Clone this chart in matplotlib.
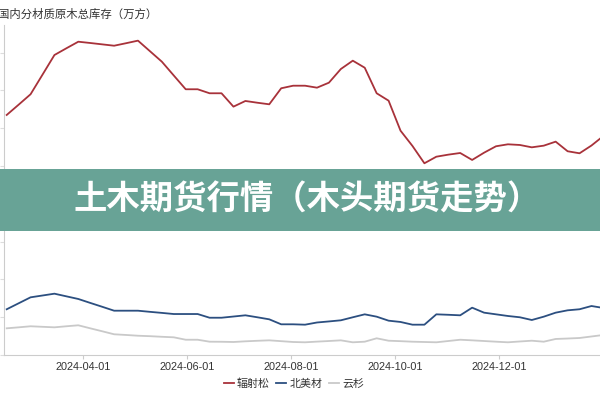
import matplotlib
matplotlib.use("Agg")
import matplotlib.pyplot as plt
import matplotlib.dates as mdates
from matplotlib.patches import Rectangle
import pandas as pd

plt.rcParams['font.family'] = ['Noto Sans CJK SC', 'DejaVu Sans']

dates = pd.date_range("2024-02-16", periods=51, freq="7D")

radiata = [317.5, 331.1, 344.9, 370.8, 396.8, 405.7, 414.4, 412.7, 410.9, 409.1,
           412.4, 415.8, 401.9, 388.0, 369.7, 351.5, 351.5, 346.2, 346.2, 328.5,
           336.0, 333.7, 331.6, 352.8, 356.2, 356.2, 353.6, 360.2, 378.3, 389.3,
           380.0, 346.2, 336.4, 296.7, 276.5, 253.6, 262.3, 265.0, 267.2, 258.0,
           267.6, 276.1, 278.7, 277.8, 274.7, 276.9, 282.2, 269.5, 266.8, 277.1,
           289.7]
north_am = [60.5, 68.4, 76.3, 78.7, 81.1, 77.6, 74.1, 68.9, 63.8, 58.6,
            58.6, 58.6, 57.1, 55.7, 54.2, 54.2, 54.2, 49.3, 49.3, 50.9,
            52.5, 49.9, 47.2, 40.6, 40.6, 40.1, 43.0, 44.4, 45.9, 49.9,
            53.8, 50.7, 45.4, 43.7, 40.1, 40.1, 53.8, 53.2, 52.5, 62.6,
            56.0, 53.8, 51.6, 49.9, 46.3, 50.7, 56.0, 59.1, 60.5, 64.8,
            62.2]
spruce = [35.3, 36.6, 38.0, 37.3, 36.6, 38.0, 39.3, 35.3, 31.4, 27.4,
          26.5, 25.5, 24.9, 24.1, 23.4, 20.2, 20.2, 17.6, 17.5, 17.2,
          18.1, 18.8, 19.4, 18.3, 17.2, 16.8, 17.7, 18.5, 19.4, 16.8,
          17.6, 22.1, 18.9, 18.3, 17.6, 17.2, 16.8, 18.5, 20.2, 19.4,
          18.5, 17.6, 16.8, 17.9, 18.9, 17.6, 21.2, 21.8, 22.5, 24.5,
          26.5]
series_names = ["辐射松", "北美材", "云杉"]
colors = ["#a8323a", "#2c4f80", "#c9c9c9"]
tick_dates = ["2024-04-01", "2024-06-01", "2024-08-01", "2024-10-01", "2024-12-01"]
title = "国内分材质原木总库存（万方）"
banner = "土木期货行情（木头期货走势）"

fig = plt.figure(figsize=(6, 4), dpi=100)
ax = fig.add_axes([4/600, 45/400, 596/600, 330/400])

for vals, name, c in zip([radiata, north_am, spruce], series_names, colors):
    ax.plot(dates, vals, color=c, lw=1.3, label=name)

ax.set_xlim(pd.Timestamp("2024-02-14 10:00"), pd.Timestamp("2025-01-29"))
ax.set_ylim(0, 436.5)
ax.set_yticks(range(0, 401, 50))
ax.set_yticklabels([])
ax.set_xticks(pd.to_datetime(tick_dates))
ax.xaxis.set_major_formatter(mdates.DateFormatter("%Y-%m-%d"))
ax.tick_params(axis='x', length=3, color="#cccccc", labelsize=7.8, labelcolor="#333333", pad=2)
ax.tick_params(axis='y', length=3, color="#dddddd")
for lbl in ax.get_xticklabels():
    lbl.set_fontfamily(['Liberation Sans', 'DejaVu Sans'])
for s in ["top", "right"]:
    ax.spines[s].set_visible(False)
for s in ["left", "bottom"]:
    ax.spines[s].set_color("#cccccc")
    ax.spines[s].set_linewidth(0.8)

fig.text(-0.004, 0.965, title, fontsize=8.2, color="#333333", ha="left", va="center",
         fontweight="medium")

leg = fig.legend(loc="center", bbox_to_anchor=(0.49, 0.04), ncol=3, frameon=False,
                 fontsize=7.9, handlelength=0.9, handletextpad=0.3, columnspacing=0.6)
for t in leg.get_texts():
    t.set_color("#333333")

fig.patches.append(Rectangle((0, (400-231)/400), 1, 62/400, transform=fig.transFigure,
                             facecolor="#68a396", edgecolor="none", zorder=5))
fig.text(0.512, 0.5, banner, fontsize=24, fontweight="bold", color="white",
         ha="center", va="center", zorder=6)

fig.savefig("out.png", dpi=100)
